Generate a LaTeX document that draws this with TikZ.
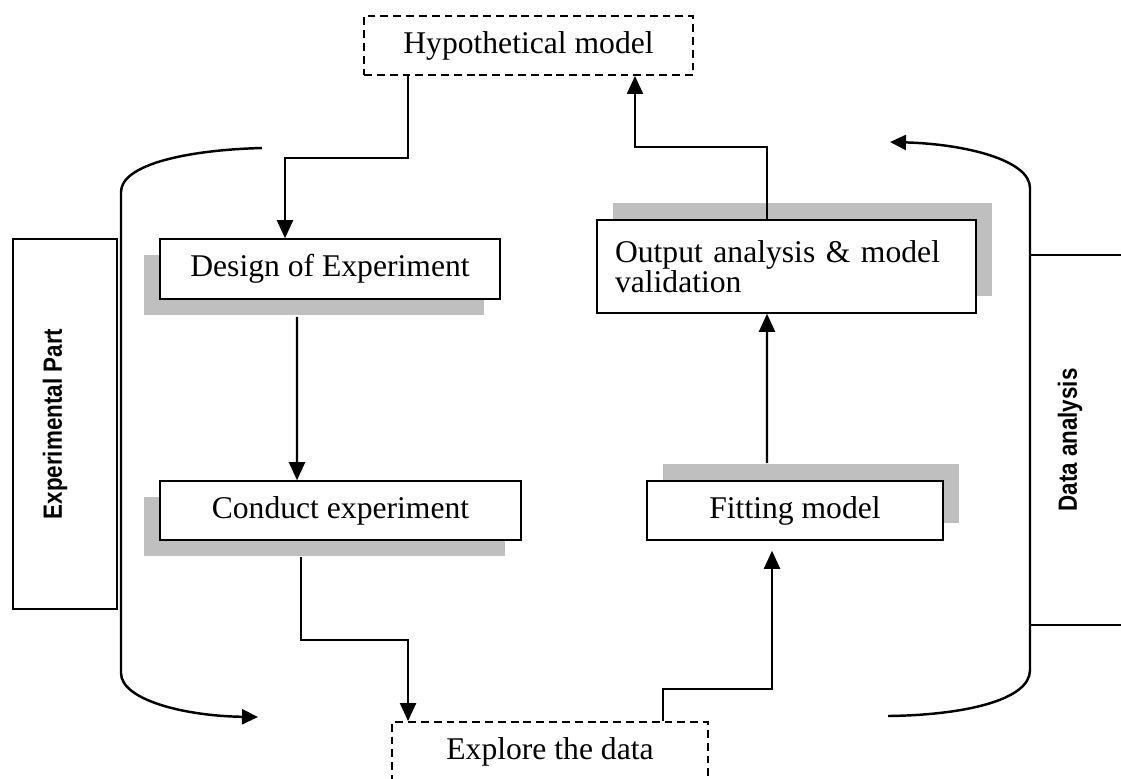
\documentclass[tikz,border=0pt]{standalone}
\usepackage{fontspec}
\setmainfont{Liberation Serif}
\newfontfamily\sidefont[FakeStretch=0.85]{Liberation Sans}
\usetikzlibrary{arrows.meta,shadows}

\tikzset{
  stepbox/.style={draw, line width=0.9pt, fill=white, inner sep=0pt,
    minimum height=1.18cm, font=\fontsize{18}{17}\selectfont},
  leftshadow/.style={general shadow={fill=black!25, shadow xshift=-0.32cm, shadow yshift=-0.32cm}},
  rightshadow/.style={general shadow={fill=black!25, shadow xshift=0.32cm, shadow yshift=0.34cm}},
  dashbox/.style={draw, line width=1.1pt, dash pattern=on 4.5pt off 2.8pt, inner sep=0pt,
    minimum height=1.18cm, font=\fontsize{18}{17}\selectfont},
  arr/.style={line width=1.2pt, -{Triangle[length=0.36cm,width=0.32cm]}},
  bracket/.style={line width=1.4pt},
  sidelabel/.style={font=\sidefont\fontsize{15}{18}\selectfont\bfseries, rotate=90}
}

\begin{document}
\begin{tikzpicture}[x=0.02cm, y=-0.02cm]
  \useasboundingbox (0,0) rectangle (1121,778);
  \clip (0,0) rectangle (1121,778);

  % dashed ends
  \node[dashbox, minimum width=6.58cm] (hyp) at (528.5,45.5) {Hypothetical model};
  \node[dashbox, minimum width=6.32cm] (expl) at (550,751.5) {Explore the data};

  % experimental part
  \node[stepbox, leftshadow, minimum width=6.8cm, minimum height=1.2cm] (des) at (330,269) {Design of Experiment};
  \node[stepbox, leftshadow, minimum width=7.22cm] (con) at (340.5,510.5) {Conduct experiment};

  % data analysis part
  \node[stepbox, rightshadow, minimum width=5.92cm] (fit) at (795,510.5) {Fitting model};
  \node[stepbox, rightshadow, minimum width=7.58cm, minimum height=1.86cm,
        text width=6.86cm, inner xsep=0.36cm, align=left] (out) at (786.5,266.5)
        {\rule{0pt}{0.3cm}Output analysis \& model\\validation};

  % side labels
  \node[draw, line width=0.9pt, minimum width=2.08cm, minimum height=7.4cm] (expbox) at (65,424) {};
  \node[sidelabel] (explab) at (55,424) {Experimental Part};
  \node[sidelabel] (datlab) at (1070,440) {Data analysis};

  % flow
  \draw[arr] ([xshift=-2.41cm]hyp.south) -- ++(0,82) -| ([xshift=-0.9cm]des.north);
  \draw[arr, shorten <=0.34cm] ([xshift=-0.66cm]des.south) -- ([xshift=-0.87cm]con.north);
  \draw[arr, shorten <=0.32cm] ([xshift=-0.79cm]con.south) -- ++(0,99) -| ([xshift=-2.84cm]expl.north);
  \draw[arr, shorten >=0.2cm] ([xshift=2.26cm]expl.north) -- ++(0,-32) -| ([xshift=-0.46cm]fit.south);
  \draw[arr, shorten <=0.34cm] ([xshift=-0.56cm]fit.north) -- ([xshift=-0.39cm]out.south);
  \draw[arr] ([xshift=-0.39cm]out.north) -- ++(0,-72) -| ([xshift=2.13cm]hyp.south);

  % left bracket
  \draw[bracket, -{Triangle[length=0.32cm,width=0.3cm]}]
    (262,148) .. controls (185,150) and (121,165) .. (121,192) -- (121,673)
    .. controls (121,700) and (185,716) .. (258,717);
  % right bracket
  \draw[bracket, {Triangle[length=0.32cm,width=0.3cm]}-]
    (890,142) .. controls (965,144) and (1030,160) .. (1030,188) -- (1030,670)
    .. controls (1030,700) and (965,715) .. (888,716);
  \draw[line width=0.8pt] (1030,255) -- (1121,255)
                          (1030,625) -- (1121,625);
\end{tikzpicture}
\end{document}
